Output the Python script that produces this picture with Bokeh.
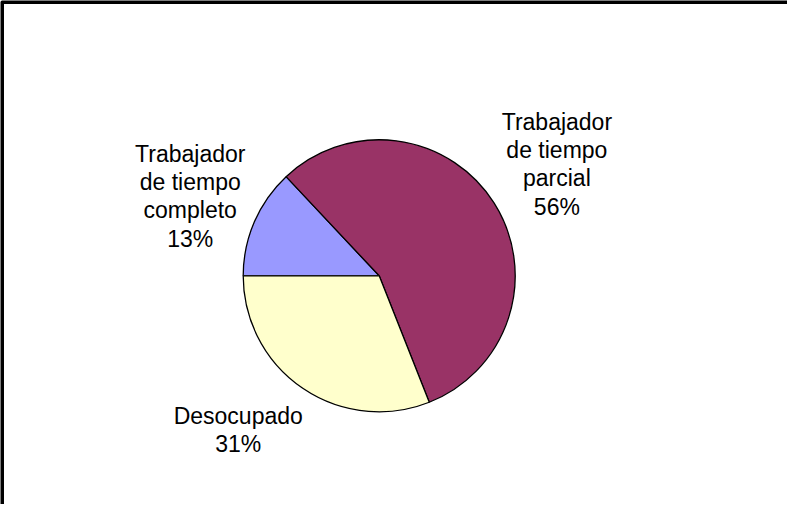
import math
import textwrap
from bokeh.plotting import figure
from bokeh.models import Range1d, ColumnDataSource, BoxAnnotation
from bokeh.core.properties import value
from bokeh.embed import file_html
from bokeh.resources import INLINE

# ---- data ----
categories = ["Trabajador de tiempo completo", "Trabajador de tiempo parcial", "Desocupado"]
percent = [13, 56, 31]
colors = ["#9999FF", "#993366", "#FFFFCC"]

# ---- layout (data units = screen pixels; figure sits at page (8, 8)) ----
OX, OY = 8, 8
W, H = 787, 504
cx, cy = 386.7 - OX, (OY + H) - 283.3
R = 136
start_deg = 180.0          # first slice starts at 9 o'clock, going clockwise
label_dist = 1.53          # label centre distance in radii
label_nudge = [(2, -3), (2, 0), (-24, 18)]   # px nudges (Excel collision placement)

total = float(sum(percent))
starts, ends, xs, ys, texts = [], [], [], [], []
a = math.radians(start_deg)
for i, (name, v) in enumerate(zip(categories, percent)):
    sweep = 2 * math.pi * v / total
    starts.append(a - sweep)
    ends.append(a)
    mid = a - sweep / 2
    xs.append(cx + label_dist * R * math.cos(mid) + label_nudge[i][0])
    ys.append(cy + label_dist * R * math.sin(mid) + label_nudge[i][1])
    texts.append(textwrap.fill(name, 10) + "\n" + f"{v}%")
    a -= sweep

src = ColumnDataSource(dict(start=starts, end=ends, color=colors, cat=categories))
lab = ColumnDataSource(dict(x=xs, y=ys, text=texts))

p = figure(width=W, height=H, output_backend="svg", toolbar_location=None,
           x_range=Range1d(0, W), y_range=Range1d(0, H),
           min_border=0, min_border_left=0, min_border_right=0,
           min_border_top=0, min_border_bottom=0)
p.axis.visible = False
p.grid.visible = False
p.outline_line_color = None
p.background_fill_color = "white"
p.border_fill_color = "white"

p.wedge(x=cx, y=cy, radius=R, start_angle="start", end_angle="end",
        fill_color="color", line_color="black", line_width=1.3, source=src)

p.text(x="x", y="y", text="text", source=lab,
       text_font=value("Liberation Sans"), text_font_size="23px",
       text_align="center", text_baseline="middle", text_line_height=1.09,
       text_color="black")

# chart-area border (only the top and left edges are in view)
p.add_layout(BoxAnnotation(left=1.5, right=W + 50, top=H - 1.5, bottom=-50,
                           fill_alpha=0, line_color="black", line_alpha=1.0,
                           line_width=4))

open("out.html", "w").write(file_html(p, INLINE))
